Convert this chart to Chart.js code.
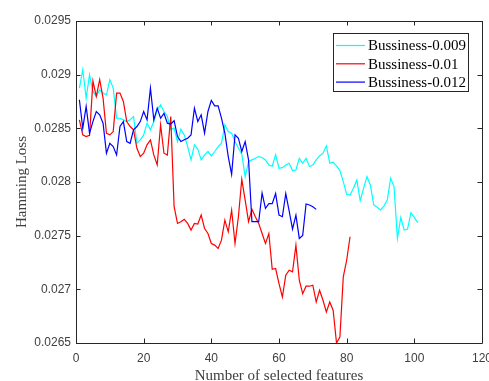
<!DOCTYPE html>
<html>
<head>
<meta charset="utf-8">
<script src="https://cdn.jsdelivr.net/npm/chart.js@4"></script>
<style>
  html, body { margin: 0; padding: 0; background: #fff; }
  canvas { display: block; }
</style>
</head>
<body>
<canvas id="lossChart" width="489" height="381"></canvas>
<script>
// Hamming loss vs number of selected features, one series per setting
const seriesNames = ["Bussiness-0.009", "Bussiness-0.01", "Bussiness-0.012"];
const seriesColors = ["#00ffff", "#ff0000", "#0000ff"];

const loss009 = [
  0.028875, 0.029046, 0.028781, 0.028999, 0.028844, 0.028797, 0.028859, 0.028828, 0.028812, 0.028953,
  0.028875, 0.028594, 0.028594, 0.028579, 0.028563, 0.028579, 0.02861, 0.028361, 0.028392, 0.028439,
  0.028548, 0.028486, 0.028563, 0.028672, 0.028719, 0.028657, 0.02861, 0.02849, 0.028502, 0.028377,
  0.028492, 0.028439, 0.02833, 0.028206, 0.028346, 0.028306, 0.028206, 0.028253, 0.028284, 0.028243,
  0.028284, 0.02833, 0.028362, 0.028533, 0.028471, 0.028455, 0.028377, 0.028315, 0.028262, 0.02805,
  0.02819, 0.028206, 0.028221, 0.028237, 0.028228, 0.028206, 0.028159, 0.028147, 0.028253, 0.028128,
  0.028134, 0.028159, 0.028175, 0.028106, 0.028112, 0.028221, 0.028175, 0.028221, 0.028144, 0.028159,
  0.028206, 0.028243, 0.028268, 0.028337, 0.028175, 0.028184, 0.02815, 0.028106, 0.028003, 0.027885,
  0.027879, 0.027941, 0.028019, 0.027826, 0.027941, 0.02805, 0.027972, 0.027786, 0.027764, 0.027739,
  0.027776, 0.027832, 0.028035, 0.027957, 0.027474, 0.02767, 0.027552, 0.027561, 0.027714, 0.02767,
  0.02762
];

const loss010 = [
  0.028579, 0.028439, 0.028423, 0.028435, 0.02894, 0.028797, 0.028953, 0.028781, 0.028454, 0.028439,
  0.02847, 0.028828, 0.028828, 0.02875, 0.028563, 0.028517, 0.028486, 0.028314, 0.028237, 0.028268,
  0.028346, 0.028392, 0.028252, 0.028159, 0.028532, 0.028268, 0.028252, 0.02861, 0.02777, 0.027614,
  0.02763, 0.027652, 0.027614, 0.027552, 0.027614, 0.027608, 0.027692, 0.027567, 0.02752, 0.027427,
  0.027412, 0.02738, 0.027458, 0.027645, 0.027536, 0.027738, 0.027427, 0.027676, 0.028025, 0.027832,
  0.02763, 0.027745, 0.027676, 0.027614, 0.02752, 0.027427, 0.02752, 0.027187, 0.027194, 0.027054,
  0.026929, 0.027131, 0.027178, 0.027163, 0.027412, 0.027085, 0.02696, 0.027029, 0.027029, 0.027038,
  0.026882, 0.026991, 0.026898, 0.026789, 0.026882, 0.026805, 0.0265, 0.026556, 0.027116, 0.027271,
  0.02749
];

const loss012 = [
  0.028766, 0.0285, 0.028704, 0.028454, 0.028563, 0.028657, 0.028626, 0.028548, 0.028268, 0.028361,
  0.02833, 0.028252, 0.028517, 0.028563, 0.028377, 0.028361, 0.028486, 0.028517, 0.028563, 0.028657,
  0.028579, 0.028875, 0.028579, 0.028688, 0.028594, 0.02864, 0.028548, 0.02854, 0.028571, 0.028423,
  0.028377, 0.028393, 0.028408, 0.028439, 0.028688, 0.028564, 0.028626, 0.028455, 0.028657, 0.02876,
  0.02871, 0.02871, 0.028595, 0.028455, 0.028237, 0.028072, 0.028439, 0.028408, 0.028284, 0.028377,
  0.028206, 0.02763, 0.02763, 0.02763, 0.027897, 0.027755, 0.027798, 0.027798, 0.027892, 0.027692,
  0.027677, 0.027892, 0.02773, 0.027561, 0.027692, 0.027474, 0.027502, 0.027795, 0.027786, 0.02777,
  0.027745
];

const xTicks = [0, 20, 40, 60, 80, 100, 120];
const yTicks = [0.0265, 0.027, 0.0275, 0.028, 0.0285, 0.029, 0.0295];
const yTickLabels = ["0.0265", "0.027", "0.0275", "0.028", "0.0285", "0.029", "0.0295"];
const xTitle = "Number of selected features";
const yTitle = "Hamming Loss";

const allSeries = [loss009, loss010, loss012];
const toPoints = (values) => values.map((v, i) => ({ x: i + 1, y: v }));

const tickFont = { family: "'Liberation Sans', Arial, sans-serif", size: 12 };
const serif = "'Liberation Serif', 'Times New Roman', serif";

// box, inward ticks on all four sides, axis titles and legend (MATLAB look)
const matlabFrame = {
  id: "matlabFrame",
  afterDatasetsDraw(chart) {
    const { ctx, chartArea: a, scales } = chart;
    ctx.save();
    ctx.strokeStyle = "#262626";
    ctx.lineWidth = 1;
    ctx.beginPath();
    ctx.rect(Math.round(a.left) + 0.5, Math.round(a.top) + 0.5,
      Math.round(a.right - a.left), Math.round(a.bottom - a.top));
    ctx.stroke();

    const tl = 4.5;
    ctx.beginPath();
    xTicks.forEach((v) => {
      const px = Math.round(scales.x.getPixelForValue(v)) + 0.5;
      ctx.moveTo(px, a.bottom); ctx.lineTo(px, a.bottom - tl);
      ctx.moveTo(px, a.top); ctx.lineTo(px, a.top + tl);
    });
    yTicks.forEach((v) => {
      const py = Math.round(scales.y.getPixelForValue(v)) + 0.5;
      ctx.moveTo(a.left, py); ctx.lineTo(a.left + tl, py);
      ctx.moveTo(a.right, py); ctx.lineTo(a.right - tl, py);
    });
    ctx.stroke();

    // axis titles
    ctx.fillStyle = "#404040";
    ctx.font = "15px " + serif;
    ctx.textAlign = "center";
    ctx.textBaseline = "alphabetic";
    ctx.fillText(xTitle, (a.left + a.right) / 2, 380);
    ctx.save();
    ctx.translate(26, (a.top + a.bottom) / 2);
    ctx.rotate(-Math.PI / 2);
    ctx.fillText(yTitle, 0, 0);
    ctx.restore();

    // legend box
    const lx = 333.5, ly = 33.5, lw = 135, lh = 58;
    ctx.fillStyle = "#fff";
    ctx.fillRect(lx, ly, lw, lh);
    ctx.strokeStyle = "#262626";
    ctx.strokeRect(lx, ly, lw, lh);
    ctx.textAlign = "left";
    ctx.textBaseline = "middle";
    ctx.font = "15px " + serif;
    chart.data.datasets.forEach((ds, i) => {
      const y = 45.5 + i * 18.3;
      ctx.strokeStyle = ds.borderColor;
      ctx.lineWidth = 1.2;
      ctx.beginPath();
      ctx.moveTo(336, y); ctx.lineTo(365, y);
      ctx.stroke();
      ctx.fillStyle = "#000";
      ctx.fillText(ds.label, 368, y + 1);
    });
    ctx.restore();
  }
};

new Chart(document.getElementById("lossChart"), {
  type: "line",
  data: {
    datasets: allSeries.map((values, i) => ({
      label: seriesNames[i],
      data: toPoints(values),
      borderColor: seriesColors[i],
      backgroundColor: seriesColors[i],
      borderWidth: 1.2,
      pointRadius: 0,
      tension: 0,
      fill: false,
      order: allSeries.length - i
    }))
  },
  options: {
    responsive: false,
    animation: false,
    devicePixelRatio: 1,
    layout: { padding: { top: 21, right: 7, left: 0, bottom: 0 } },
    plugins: { legend: { display: false }, tooltip: { enabled: false } },
    scales: {
      x: {
        type: "linear",
        min: 0,
        max: 120,
        afterBuildTicks: (s) => { s.ticks = xTicks.map((v) => ({ value: v })); },
        afterFit: (s) => { s.height = 38; s.paddingLeft = 0; s.paddingRight = 0; },
        grid: { display: false, drawTicks: false },
        border: { display: false },
        ticks: { font: tickFont, color: "#404040", padding: 8, maxRotation: 0, autoSkip: false }
      },
      y: {
        type: "linear",
        min: 0.0265,
        max: 0.0295,
        afterBuildTicks: (s) => { s.ticks = yTicks.map((v) => ({ value: v })); },
        afterFit: (s) => { s.width = 76; s.paddingTop = 0; s.paddingBottom = 0; },
        grid: { display: false, drawTicks: false },
        border: { display: false },
        ticks: {
          font: tickFont,
          color: "#404040",
          padding: 5,
          autoSkip: false,
          callback: (v, i) => yTickLabels[i]
        }
      }
    }
  },
  plugins: [matlabFrame]
});
</script>
</body>
</html>
